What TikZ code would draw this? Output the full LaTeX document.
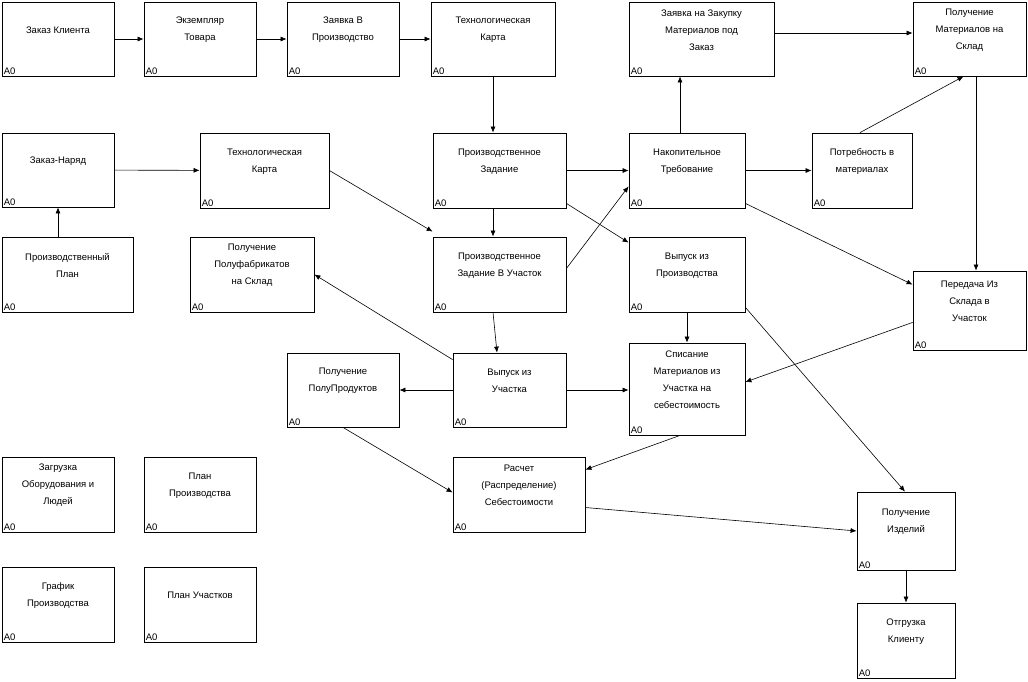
\documentclass[tikz,border=0pt]{standalone}
\usepackage{fontspec}
\setmainfont{Liberation Sans}
\usetikzlibrary{fit,calc,arrows.meta}
\begin{document}
\begin{tikzpicture}[x=1pt,y=-1pt,
  box/.style={draw,line width=0.8pt,inner sep=0pt},
  lbl/.style={align=center,font=\fontsize{9.5}{17}\selectfont,inner sep=0pt},
  zero/.style={anchor=south west,font=\fontsize{9.5}{11}\selectfont,inner sep=2pt},
  arr/.style={-{Latex[length=6pt,width=5pt]},line width=0.6pt}]
\useasboundingbox (0,0) rectangle (1028,681);
\newcommand\bx[6]{%
  \coordinate (#1a) at (#2,#3); \coordinate (#1b) at (#4,#5);
  \node[box,fit=(#1a)(#1b)] (#1) {};
  \node[lbl] at ($(#1.center)+(0,-9)$) {#6};
  \node[zero] at (#1.south west) {A0};}
\bx{n1}{2}{2}{114}{76}{Заказ Клиента}
\bx{n2}{144}{2}{256}{76}{Экземпляр\\Товара}
\bx{n3}{287}{2}{399}{76}{Заявка В\\Производство}
\bx{n4}{431}{2}{555}{76}{Технологическая\\Карта}
\bx{n5}{629}{2}{774}{76}{Заявка на Закупку\\Материалов под\\Заказ}
\bx{n6}{913}{2}{1026}{76}{Получение\\Материалов на\\Склад}
\bx{n7}{2}{133}{114}{207}{Заказ-Наряд}
\bx{n8}{200}{133}{329}{208}{Технологическая\\Карта}
\bx{n9}{433}{133}{566}{208}{Производственное\\Задание}
\bx{n10}{629}{133}{745}{208}{Накопительное\\Требование}
\bx{n11}{812}{133}{912}{208}{Потребность в\\материалах}
\bx{n12}{2}{237}{133}{312}{Производственный\\План}
\bx{n13}{190}{237}{314}{312}{Получение\\Полуфабрикатов\\на Склад}
\bx{n14}{433}{237}{566}{312}{Производственное\\Задание В Участок}
\bx{n15}{629}{237}{745}{312}{Выпуск из\\Производства}
\bx{n16}{913}{271}{1026}{350}{Передача Из\\Склада в\\Участок}
\bx{n17}{287}{353}{399}{427}{Получение\\ПолуПродуктов}
\bx{n18}{453}{353}{566}{427}{Выпуск из\\Участка}
\bx{n19}{629}{343}{745}{435}{Списание\\Материалов из\\Участка на\\себестоимость}
\bx{n20}{2}{457}{114}{532}{Загрузка\\Оборудования и\\Людей}
\bx{n21}{144}{457}{256}{532}{План\\Производства}
\bx{n22}{453}{457}{585}{532}{Расчет\\(Распределение)\\Себестоимости}
\bx{n23}{857}{492}{955}{570}{Получение\\Изделий}
\bx{n24}{2}{567}{114}{642}{График\\Производства}
\bx{n25}{144}{567}{256}{642}{План Участков}
\bx{n26}{857}{603}{955}{678}{Отгрузка\\Клиенту}
\draw[arr] (n1) -- (n2);
\draw[arr] (n2) -- (n3);
\draw[arr] (n3) -- (n4);
\draw[arr] (n4.south) -- (n4.south |- n9.north);
\draw[arr] ($(n5.east)+(0,-6)$) -- ($(n6.west)+(0,-6)$);
\draw[arr] (n10.north -| 680,0) -- (680,0 |- n5.south);
\draw[arr] ($(n11.north)+(-2,0)$) -- ($(n6.south)+(-6,0)$);
\draw[arr] (976,0 |- n6.south) -- (976,0 |- n16.north);
\draw[arr] (n7) -- (n8);
\draw[arr] (n7.south |- n12.north) -- (n7.south);
\draw[arr] (n8.east) -- ($(n14.north west)+(0,-5)$);
\draw[arr] (n9) -- (n10);
\draw[arr] (n10) -- (n11);
\draw[arr] (493,0 |- n9.south) -- (493,0 |- n14.north);
\draw[arr] ($(n9.south east)+(0,-5)$) -- ($(n15.north west)+(0,6)$);
\draw[arr] ($(n14.east)+(0,-6)$) -- ($(n10.south west)+(0,-22)$);
\draw[arr] ($(n10.south east)+(0,-5)$) -- ($(n16.north west)+(0,14)$);
\draw[arr] (493,0 |- n14.south) -- (497,0 |- n18.north);
\draw[arr] ($(n18.north west)+(0,7)$) -- (n13.east);
\draw[arr] (n18.west) -- (n17.east);
\draw[arr] (n18.east) -- (n19.west |- n18.east);
\draw[arr] (687,0 |- n15.south) -- (687,0 |- n19.north);
\draw[arr] ($(n16.south west)+(0,-28)$) -- ($(n19.east)+(0,-7)$);
\draw[arr] (n17.south) -- ($(n22.west)+(0,-2)$);
\draw[arr] ($(n19.south)+(-7,0)$) -- ($(n22.north east)+(0,13)$);
\draw[arr] ($(n22.east)+(0,13)$) -- (n23.west);
\draw[arr] ($(n15.south east)+(0,-5)$) -- ($(n23.north)+(-1,0)$);
\draw[arr] (n23.south) -- (n26.north);
\end{tikzpicture}
\end{document}
